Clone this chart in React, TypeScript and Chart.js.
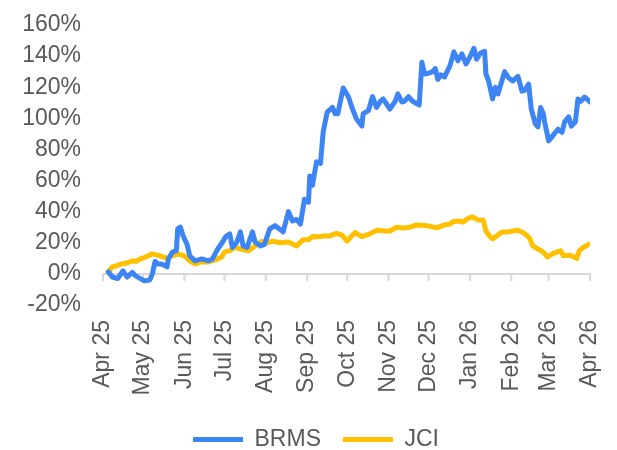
import React, { useEffect, useRef } from 'react';
import { Chart, registerables } from 'chart.js';

Chart.register(...registerables);

// Days since 1 Apr 2025
const monthTicks = [0, 30, 61, 91, 122, 153, 183, 214, 244, 275, 306, 334, 365];
const monthLabels = ['Apr 25', 'May 25', 'Jun 25', 'Jul 25', 'Aug 25', 'Sep 25', 'Oct 25', 'Nov 25', 'Dec 25', 'Jan 26', 'Feb 26', 'Mar 26', 'Apr 26'];

const brmsDays = [4, 7, 11, 15, 18, 22, 24, 28, 31, 35, 37, 39, 41, 45, 48, 49, 52, 55, 56, 58, 60, 63, 65, 69, 74, 79, 82, 86, 90, 92, 95, 97, 100, 103, 105, 108, 112, 114, 118, 121, 125, 129, 132, 135, 139, 142, 145, 148, 151, 154, 155, 157, 160, 163, 165, 168, 172, 174, 176, 180, 184, 187, 190, 194, 195, 199, 202, 205, 208, 210, 215, 219, 221, 224, 226, 229, 232, 237, 239, 241, 244, 247, 249, 251, 253, 256, 260, 263, 266, 269, 272, 275, 278, 280, 283, 286, 287, 289, 292, 294, 296, 301, 304, 307, 311, 314, 316, 319, 321, 324, 326, 328, 330, 331, 334, 337, 341, 344, 346, 349, 351, 354, 356, 358, 361, 365];
const brmsValues = [1.3, -2, -3, 2, -2, 1, -1, -3, -4.5, -4, 0, 8, 6.5, 6, 4.5, 9.6, 14, 15, 29, 30, 24.5, 19, 11.6, 8.4, 9.6, 8.4, 9.6, 16, 21, 24, 25.7, 17, 20, 27, 18, 17, 27, 20.5, 18, 19, 29, 31, 29, 27, 40, 34, 35, 32, 48, 46, 63, 57, 72, 71, 91, 104, 107, 103, 103, 119.5, 113.7, 106, 99.6, 95, 103, 105, 114, 107, 111, 112.5, 106, 111, 115.7, 110.5, 111, 114, 111, 108.6, 136, 128.5, 129, 130, 132, 125, 128, 126.6, 133.7, 142.7, 137, 141.4, 135, 139.5, 145, 138, 142, 143, 128.5, 124, 112.5, 120, 115.7, 130, 126, 124, 127, 117.5, 118, 122, 106, 96.4, 94.5, 107, 103, 97.7, 85.5, 88.7, 93, 91, 97.7, 101, 95, 97.7, 112.5, 111, 113.7, 110.5];

const jciDays = [4, 7, 11, 14, 18, 22, 25, 28, 31, 34, 37, 43, 48, 52, 56, 61, 65, 69, 74, 79, 84, 89, 91, 95, 99, 103, 109, 114, 119, 123, 127, 133, 139, 145, 150, 154, 157, 161, 165, 170, 175, 179, 183, 186, 189, 194, 200, 205, 211, 215, 220, 225, 230, 235, 243, 250, 256, 260, 262, 266, 270, 274, 277, 281, 285, 287, 290, 292, 295, 299, 304, 307, 311, 315, 318, 320, 322, 326, 330, 333, 337, 340, 343, 345, 350, 355, 357, 360, 364];
const jciValues = [1.3, 4.5, 5.5, 6.4, 7, 8.4, 8, 9.6, 10.5, 11.6, 12.9, 11.6, 10, 11.6, 12.9, 11.6, 8.4, 6.4, 7.7, 7.7, 9, 10.9, 14, 15, 17, 16, 14.8, 18, 21, 20, 21, 20, 20.5, 18, 22, 22, 24, 23.8, 24.4, 24.4, 26, 25, 21, 24, 26.5, 24, 25.7, 28, 27.5, 27.6, 30, 29.5, 30, 31.5, 31, 29.6, 31.5, 32, 33.5, 34, 33.4, 36, 36.6, 34.7, 34.5, 27.6, 24, 22.5, 24.4, 27, 27, 27.6, 28, 26.5, 24.5, 22.5, 18, 16, 14, 10.9, 12.9, 14, 14.8, 11.6, 12, 10, 15, 17, 19];

const yMin = -20;
const yMax = 160;
const yStep = 20;

const seriesNames = ['BRMS', 'JCI'];
const seriesColors = ['#3D85F5', '#FFC000'];

const textColor = '#595959';
const fontFamily = '"Liberation Sans", Arial, sans-serif';
const fontSize = 23;

const zeroAxisPlugin = {
  id: 'zeroAxis',
  beforeDatasetsDraw(chart: any) {
    const { ctx, chartArea, scales } = chart;
    const y0 = scales.y.getPixelForValue(0);
    ctx.save();
    ctx.strokeStyle = '#D9D9D9';
    ctx.lineWidth = 2;
    ctx.beginPath();
    ctx.moveTo(chartArea.left - 1, y0);
    ctx.lineTo(chartArea.right + 1, y0);
    monthTicks.forEach((d) => {
      const x = scales.x.getPixelForValue(d);
      ctx.moveTo(x, y0);
      ctx.lineTo(x, y0 + 7);
    });
    ctx.stroke();
    ctx.restore();
  },
};

const legendShiftPlugin = {
  id: 'legendShift',
  afterLayout(chart: any) {
    const lg = chart.legend;
    if (!lg) return;
    lg.left += 17;
    lg.right += 17;
    lg.top += 9;
    lg.bottom += 9;
  },
};

export default function App() {
  const canvasRef = useRef<HTMLCanvasElement | null>(null);

  useEffect(() => {
    if (!canvasRef.current) return;
    const chart = new Chart(canvasRef.current, {
      type: 'line',
      data: {
        datasets: [
          {
            label: seriesNames[0],
            data: brmsDays.map((d, i) => ({ x: d, y: brmsValues[i] })),
            borderColor: seriesColors[0],
            backgroundColor: seriesColors[0],
            borderWidth: 5,
            pointRadius: 0,
            borderCapStyle: 'round',
            borderJoinStyle: 'round',
            tension: 0,
          },
          {
            label: seriesNames[1],
            data: jciDays.map((d, i) => ({ x: d, y: jciValues[i] })),
            borderColor: seriesColors[1],
            backgroundColor: seriesColors[1],
            borderWidth: 5,
            pointRadius: 0,
            borderCapStyle: 'round',
            borderJoinStyle: 'round',
            tension: 0,
          },
        ],
      },
      options: {
        animation: false,
        responsive: true,
        maintainAspectRatio: false,
        layout: { padding: { left: 0, right: 19, top: 17, bottom: 0 } },
        plugins: {
          legend: {
            position: 'bottom',
            labels: {
              usePointStyle: true,
              pointStyle: 'line',
              pointStyleWidth: 50,
              color: textColor,
              font: { size: fontSize, family: fontFamily },
              padding: 22,
            },
          },
          tooltip: { enabled: false },
        },
        scales: {
          x: {
            type: 'linear',
            min: 0,
            max: 365,
            grid: { display: false, drawTicks: false },
            border: { display: false },
            afterBuildTicks: (scale: any) => {
              scale.ticks = monthTicks.map((v) => ({ value: v }));
            },
            afterFit: (scale: any) => {
              scale.height = 92;
              scale.paddingLeft = 0;
              scale.paddingRight = 0;
            },
            ticks: {
              autoSkip: false,
              maxRotation: 90,
              minRotation: 90,
              color: textColor,
              font: { size: fontSize, family: fontFamily },
              padding: 15,
              callback: (v: any) => {
                const i = monthTicks.indexOf(Number(v));
                return i >= 0 ? monthLabels[i] : '';
              },
            },
          },
          y: {
            min: yMin,
            max: yMax,
            grid: { display: false, drawTicks: false },
            border: { display: false },
            afterFit: (scale: any) => {
              scale.width = 95;
              scale.paddingTop = 0;
              scale.paddingBottom = 0;
            },
            ticks: {
              stepSize: yStep,
              color: textColor,
              font: { size: fontSize, family: fontFamily },
              padding: 22,
              callback: (v: any) => `${v}%`,
            },
          },
        },
      },
      plugins: [zeroAxisPlugin, legendShiftPlugin],
    });
    return () => chart.destroy();
  }, []);

  return (
    <div style={{ position: 'fixed', left: 8, top: 8, width: 601, height: 444 }}>
      <canvas ref={canvasRef} />
    </div>
  );
}
